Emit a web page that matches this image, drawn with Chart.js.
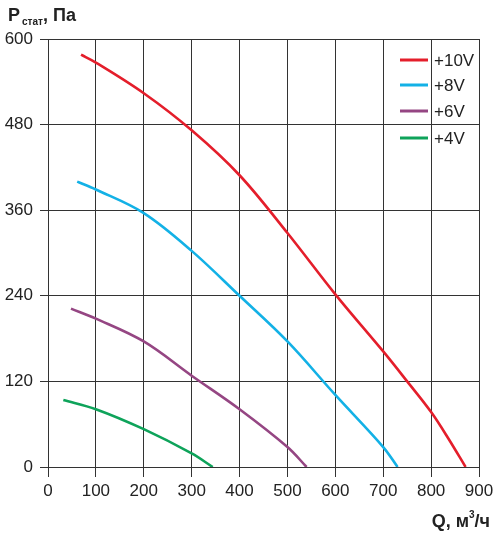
<!DOCTYPE html>
<html>
<head>
<meta charset="utf-8">
<script src="https://cdn.jsdelivr.net/npm/chart.js@4.4.0/dist/chart.umd.min.js"></script>
<style>
  html, body { margin: 0; padding: 0; background: #fff; }
  #wrap { width: 500px; height: 537px; position: relative; }
</style>
</head>
<body>
<div id="wrap"><canvas id="grafico"></canvas></div>
<script>
// Datos (Q en м³/ч, P en Па)
const serieNombres = ['+10V', '+8V', '+6V', '+4V'];
const serieColores = ['#e41e2b', '#13b1e6', '#954683', '#0ea35a'];

const q10 = [69, 100, 200, 300, 400, 500, 600, 700, 750, 800, 836, 872];
const p10 = [578, 567, 524, 472, 409, 328, 242, 162, 120, 77, 40, 0];

const q8 = [61, 100, 200, 300, 400, 500, 600, 700, 730];
const p8 = [400, 389, 356, 303, 240, 176, 101, 28, 0];

const q6 = [48, 100, 200, 300, 400, 500, 540];
const p6 = [222, 208, 176, 128, 81, 28, 0];

const q4 = [32, 100, 200, 300, 344];
const p4 = [94, 81, 53, 19, 0];

const xTicks = [0, 100, 200, 300, 400, 500, 600, 700, 800, 900];
const yTicks = [0, 120, 240, 360, 480, 600];

function puntos(qs, ps) {
    return qs.map((q, i) => ({ x: q, y: ps[i] }));
}

const series = [puntos(q10, p10), puntos(q8, p8), puntos(q6, p6), puntos(q4, p4)];

const fuente = '"Liberation Sans", Arial, sans-serif';

// Títulos de ejes y leyenda dibujados a mano
const textosPlugin = {
    id: 'textos',
    afterDraw(chart) {
        const ctx = chart.ctx;
        ctx.save();
        ctx.fillStyle = '#222';
        ctx.textBaseline = 'alphabetic';
        // Título eje Y
        ctx.font = 'bold 18px ' + fuente;
        ctx.textAlign = 'left';
        ctx.fillText('P', 8, 21);
        ctx.font = 'bold 10px ' + fuente;
        ctx.fillText('стат', 22, 25);
        ctx.font = 'bold 18px ' + fuente;
        ctx.fillText(', Па', 43, 21);
        // Título eje X
        ctx.font = 'bold 18px ' + fuente;
        ctx.textAlign = 'right';
        ctx.fillText('/ч', 490, 527);
        const w1 = ctx.measureText('/ч').width;
        ctx.font = 'bold 10px ' + fuente;
        ctx.fillText('3', 490 - w1, 518);
        const w2 = ctx.measureText('3').width;
        ctx.font = 'bold 18px ' + fuente;
        ctx.fillText('Q, м', 490 - w1 - w2, 527);
        // Leyenda
        const ys = [60, 85, 111, 138];
        chart.data.datasets.forEach((ds, i) => {
            ctx.strokeStyle = ds.borderColor;
            ctx.lineWidth = 3;
            ctx.beginPath();
            ctx.moveTo(400, ys[i]);
            ctx.lineTo(428, ys[i]);
            ctx.stroke();
            ctx.font = '17px ' + fuente;
            ctx.textAlign = 'left';
            ctx.textBaseline = 'middle';
            ctx.fillText(ds.label, 434, ys[i] + 1);
        });
        ctx.restore();
    }
};

const ctx = document.getElementById('grafico').getContext('2d');
const grafico = new Chart(ctx, {
    type: 'scatter',
    data: {
        datasets: series.map((datos, i) => ({
            label: serieNombres[i],
            data: datos,
            borderColor: serieColores[i],
            backgroundColor: serieColores[i],
            borderWidth: 2.6,
            showLine: true,
            pointRadius: 0,
            tension: 0.35
        }))
    },
    options: {
        responsive: true,
        maintainAspectRatio: false,
        animation: false,
        layout: {
            padding: { left: 0, top: 39, right: 21, bottom: 30 }
        },
        plugins: {
            legend: { display: false },
            tooltip: { enabled: false }
        },
        scales: {
            x: {
                type: 'linear',
                min: 0,
                max: 900,
                afterFit(scale) { scale.height = 40; },
                afterBuildTicks(scale) { scale.ticks = xTicks.map(v => ({ value: v })); },
                grid: { color: '#333', lineWidth: 1, tickLength: 10, drawTicks: true },
                border: { color: '#333', width: 1 },
                ticks: { color: '#222', font: { family: fuente, size: 17 }, padding: 4, maxRotation: 0 }
            },
            y: {
                type: 'linear',
                min: 0,
                max: 600,
                afterFit(scale) { scale.width = 48; },
                afterBuildTicks(scale) { scale.ticks = yTicks.map(v => ({ value: v })); },
                grid: { color: '#333', lineWidth: 1, tickLength: 8, drawTicks: true },
                border: { color: '#333', width: 1 },
                ticks: { color: '#222', font: { family: fuente, size: 17 }, padding: 7 }
            }
        }
    },
    plugins: [textosPlugin]
});
</script>
</body>
</html>
